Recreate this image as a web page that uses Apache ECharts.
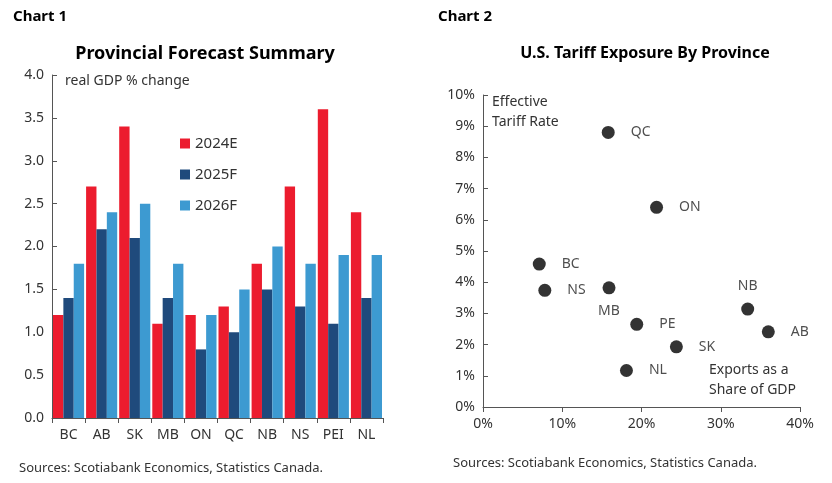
<!DOCTYPE html>
<html><head><meta charset="utf-8">
<script src="https://cdn.jsdelivr.net/npm/echarts@6/dist/echarts.min.js"></script>
<style>body{margin:0;background:#fff}#c{width:832px;height:483px}</style>
</head><body><div id="c"></div>
<script>
const provinces = ['BC', 'AB', 'SK', 'MB', 'ON', 'QC', 'NB', 'NS', 'PEI', 'NL'];
const gdp2024 = [1.2, 2.7, 3.4, 1.1, 1.2, 1.3, 1.8, 2.7, 3.6, 2.4];
const gdp2025 = [1.4, 2.2, 2.1, 1.4, 0.8, 1.0, 1.5, 1.3, 1.1, 1.4];
const gdp2026 = [1.8, 2.4, 2.5, 1.8, 1.2, 1.5, 2.0, 1.8, 1.9, 1.9];

// [export share %, tariff rate %, label, label position]
const tariffPoints = [
  [15.8, 8.8, 'QC', 'right'],
  [21.9, 6.4, 'ON', 'right'],
  [7.1, 4.58, 'BC', 'right'],
  [7.8, 3.74, 'NS', 'right'],
  [15.9, 3.82, 'MB', 'bottom'],
  [19.4, 2.65, 'PE', 'right'],
  [24.4, 1.93, 'SK', 'right'],
  [18.1, 1.17, 'NL', 'right'],
  [33.4, 3.14, 'NB', 'top'],
  [36.0, 2.41, 'AB', 'right']
];

const font = 'Noto Sans';
const axisTxt = { color: '#333', fontFamily: font, fontSize: 14 };
const axLine = { show: true, lineStyle: { color: '#555' } };

const chart = echarts.init(document.getElementById('c'));
chart.setOption({
  animation: false,
  textStyle: { fontFamily: font },
  title: [
    { text: 'Chart 1', left: 8, top: 4, textStyle: { fontSize: 15, fontWeight: 'bold', color: '#000' } },
    { text: 'Chart 2', left: 433, top: 4, textStyle: { fontSize: 15, fontWeight: 'bold', color: '#000' } },
    { text: 'Provincial Forecast Summary', left: 200, textAlign: 'center', top: 40, textStyle: { fontSize: 18, fontWeight: 'bold', color: '#000' } },
    { text: 'U.S. Tariff Exposure By Province', left: 640, textAlign: 'center', top: 40, textStyle: { fontSize: 16, fontWeight: 'bold', color: '#000' } },
    { text: 'Sources: Scotiabank Economics, Statistics Canada.', left: 14, top: 457, textStyle: { fontSize: 13, fontWeight: 'normal', color: '#333' } },
    { text: 'Sources: Scotiabank Economics, Statistics Canada.', left: 448, top: 452, textStyle: { fontSize: 13, fontWeight: 'normal', color: '#333' } }
  ],
  legend: {
    data: ['2024E', '2025F', '2026F'], orient: 'vertical', left: 175, top: 131,
    itemWidth: 10, itemHeight: 10, itemGap: 16, icon: 'rect',
    textStyle: { fontSize: 15, color: '#333' }
  },
  graphic: [
    { type: 'text', left: 65, top: 74, style: { text: 'real GDP % change', font: '14px Noto Sans', fill: '#333' } },
    { type: 'text', left: 492, top: 92, style: { text: 'Effective\nTariff Rate', font: '14px Noto Sans', fill: '#333', lineHeight: 20 } },
    { type: 'text', left: 709, top: 360, style: { text: 'Exports as a\nShare of GDP', font: '14px Noto Sans', fill: '#333', lineHeight: 20 } }
  ],
  grid: [
    { left: 52, top: 75, width: 331, height: 343 },
    { left: 483, top: 95, width: 317, height: 312 }
  ],
  xAxis: [
    { gridIndex: 0, type: 'category', data: provinces, axisLine: axLine,
      axisTick: { show: true, length: 5, lineStyle: { color: '#555' } }, axisLabel: { ...axisTxt, margin: 10 } },
    { gridIndex: 1, type: 'value', min: 0, max: 40, interval: 10, axisLine: axLine,
      axisTick: { show: true, length: 5, lineStyle: { color: '#555' } }, splitLine: { show: false },
      axisLabel: { ...axisTxt, formatter: '{value}%', margin: 10 } }
  ],
  yAxis: [
    { gridIndex: 0, type: 'value', min: 0, max: 4, interval: 0.5, axisLine: axLine,
      axisTick: { show: true, inside: true, length: 5, lineStyle: { color: '#555' } }, splitLine: { show: false },
      axisLabel: { ...axisTxt, formatter: v => v.toFixed(1) } },
    { gridIndex: 1, type: 'value', min: 0, max: 10, interval: 1, axisLine: axLine,
      axisTick: { show: true, inside: true, length: 5, lineStyle: { color: '#555' } }, splitLine: { show: false },
      axisLabel: { ...axisTxt, formatter: '{value}%' } }
  ],
  series: [
    { name: '2024E', type: 'bar', data: gdp2024, itemStyle: { color: '#ec1c2e' }, barGap: '0%', barCategoryGap: '6%' },
    { name: '2025F', type: 'bar', data: gdp2025, itemStyle: { color: '#1f4a7c' } },
    { name: '2026F', type: 'bar', data: gdp2026, itemStyle: { color: '#3d9ad1' } },
    { type: 'scatter', xAxisIndex: 1, yAxisIndex: 1, symbolSize: 13, itemStyle: { color: '#000' },
      data: tariffPoints.map(p => ({
        value: [p[0], p[1]],
        label: { show: true, formatter: p[2], position: p[3], distance: p[3] === 'right' ? 16 : 10, fontSize: 14, color: '#222' }
      })) }
  ]
});
</script></body></html>
